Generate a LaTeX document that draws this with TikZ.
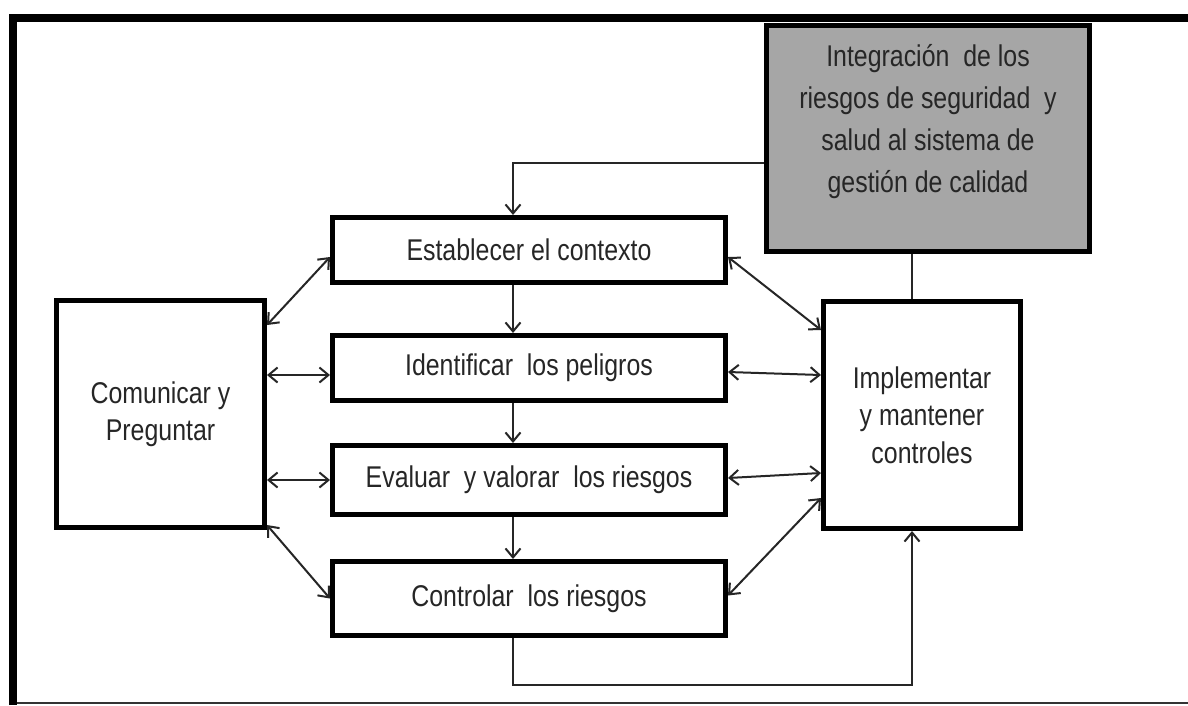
\documentclass[tikz,border=0pt]{standalone}
\usepackage{fontspec}
\setmainfont{Liberation Sans}[FakeStretch=0.83]
\usetikzlibrary{arrows.meta}
\definecolor{txtc}{HTML}{262626}
\definecolor{grayfill}{HTML}{A6A6A6}
\begin{document}
\begin{tikzpicture}[x=1pt,y=-1pt,
  box/.style={draw=black, line width=5pt, fill=white, inner sep=0pt, align=center,
    text=txtc, font={\fontsize{30}{37.5}\selectfont}},
  graybox/.style={box, fill=grayfill},
  lbl/.style={inner sep=0pt, align=center, text=txtc, font={\fontsize{30}{42}\selectfont}},
  conn/.style={draw=black!85, line width=2pt},
  arr/.style={conn, -{Straight Barb[length=9pt,width=15pt,line width=2pt]}},
  darr/.style={conn, {Straight Barb[length=9pt,width=15pt,line width=2pt]}-{Straight Barb[length=9pt,width=15pt,line width=2pt]}}
]
\useasboundingbox (0,0) rectangle (1188,705);
\fill[white] (0,0) rectangle (1188,705);
% frame
\draw[line width=8pt] (13,705) -- (13,18) -- (1188,18);
\draw[line width=2pt, black!80] (17,703) -- (1188,703);

% nodes
\node[box, minimum width=393pt, minimum height=65pt] (est) at (529,250) {Establecer el contexto};
\node[box, minimum width=393pt, minimum height=65pt] (ide) at (529,368) {Identificar\ \ los peligros};
\node[box, minimum width=393pt, minimum height=69pt] (eva) at (529,480) {Evaluar\ \ y valorar\ \ los riesgos};
\node[box, minimum width=393pt, minimum height=74pt] (con) at (529,598.5) {Controlar\ \ los riesgos};
\node[box, minimum width=208pt, minimum height=227pt] (com) at (160.5,414) {Comunicar y\\Preguntar};
\node[box, minimum width=197pt, minimum height=227pt] (imp) at (922,415) {Implementar\\y mantener\\controles};
\node[graybox, minimum width=323pt, minimum height=226pt] (gi) at (928,138.5) {};
\node[lbl] (gitxt) at ([yshift=17pt]gi.center) {Integración\ \ de los\\riesgos de seguridad\ \ y\\salud al sistema de\\gestión de calidad};

% top connector from gray box
\draw[arr] ([yshift=-24.5pt]gi.west) -| ([xshift=-16pt]est.north);
\draw[conn] ([xshift=-16pt]gi.south) -- ([xshift=-10pt]imp.north);

% vertical chain
\draw[arr] ([xshift=-16pt]est.south) -- ([xshift=-16pt]ide.north);
\draw[arr] ([xshift=-16pt]ide.south) -- ([xshift=-16pt]eva.north);
\draw[arr] ([xshift=-16pt]eva.south) -- ([xshift=-16pt]con.north);

% bottom loop
\coordinate (b1) at (513,685);
\coordinate (b2) at (912,685);
\draw[arr] ([xshift=-16pt]con.south) -- (b1) -- (b2) -- ([xshift=-10pt]imp.south);

% left double arrows
\coordinate (ideL) at ([yshift=-7pt]ide.west);
\draw[darr] ([yshift=89pt]com.east) -- ([yshift=-7pt]est.west);
\draw[darr] (com.east |- ideL) -- (ideL);
\draw[darr] (com.east |- eva.west) -- (eva.west);
\draw[darr] ([yshift=-111pt]com.east) -- (con.west);

% right double arrows
\draw[darr] ([yshift=-7pt]est.east) -- ([yshift=85pt]imp.west);
\draw[darr] ([yshift=-4pt]ide.east) -- ([yshift=40pt]imp.west);
\draw[darr] ([yshift=2pt]eva.east) -- ([yshift=-58pt]imp.west);
\draw[darr] ([yshift=3pt]con.east) -- ([yshift=-83pt]imp.west);
\end{tikzpicture}
\end{document}
